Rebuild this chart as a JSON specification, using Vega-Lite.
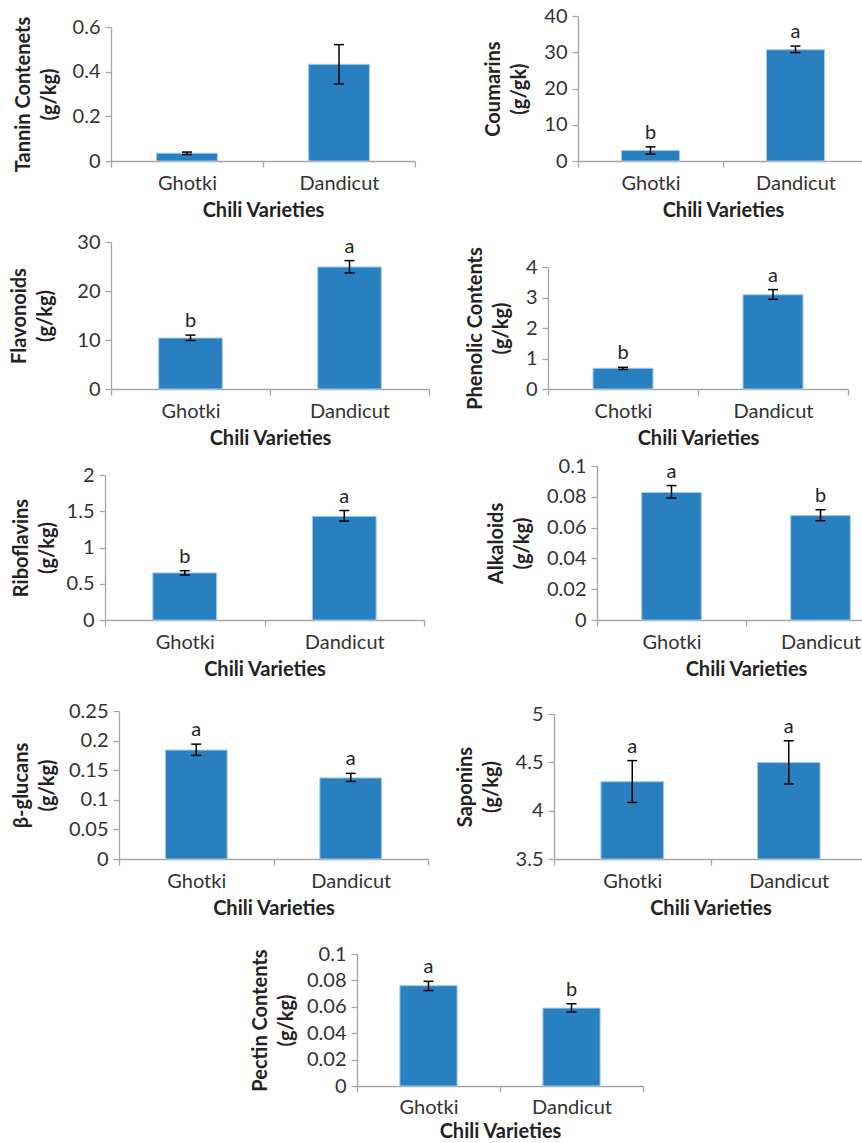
{
  "$schema": "https://vega.github.io/schema/vega-lite/v6.json",
  "padding": {"left": 9, "top": 6, "right": 0, "bottom": 0},
  "background": "white",
  "data": {"values": [
    {"p": 1, "v": "Ghotki", "val": 0.035, "lo": 0.029, "hi": 0.040, "lab": ""},
    {"p": 1, "v": "Dandicut", "val": 0.433, "lo": 0.345, "hi": 0.521, "lab": ""},
    {"p": 2, "v": "Ghotki", "val": 2.9, "lo": 1.9, "hi": 3.9, "lab": "b"},
    {"p": 2, "v": "Dandicut", "val": 30.7, "lo": 29.9, "hi": 31.7, "lab": "a"},
    {"p": 3, "v": "Ghotki", "val": 10.4, "lo": 9.9, "hi": 11.0, "lab": "b"},
    {"p": 3, "v": "Dandicut", "val": 24.9, "lo": 23.7, "hi": 26.2, "lab": "a"},
    {"p": 4, "v": "Chotki", "val": 0.68, "lo": 0.64, "hi": 0.71, "lab": "b"},
    {"p": 4, "v": "Dandicut", "val": 3.09, "lo": 2.94, "hi": 3.26, "lab": "a"},
    {"p": 5, "v": "Ghotki", "val": 0.65, "lo": 0.62, "hi": 0.68, "lab": "b"},
    {"p": 5, "v": "Dandicut", "val": 1.43, "lo": 1.365, "hi": 1.51, "lab": "a"},
    {"p": 6, "v": "Ghotki", "val": 0.0828, "lo": 0.0792, "hi": 0.0873, "lab": "a"},
    {"p": 6, "v": "Dandicut", "val": 0.0679, "lo": 0.0645, "hi": 0.0716, "lab": "b"},
    {"p": 7, "v": "Ghotki", "val": 0.184, "lo": 0.175, "hi": 0.194, "lab": "a"},
    {"p": 7, "v": "Dandicut", "val": 0.137, "lo": 0.131, "hi": 0.1446, "lab": "a"},
    {"p": 8, "v": "Ghotki", "val": 4.30, "lo": 4.085, "hi": 4.518, "lab": "a"},
    {"p": 8, "v": "Dandicut", "val": 4.498, "lo": 4.276, "hi": 4.723, "lab": "a"},
    {"p": 9, "v": "Ghotki", "val": 0.076, "lo": 0.0723, "hi": 0.0793, "lab": "a"},
    {"p": 9, "v": "Dandicut", "val": 0.059, "lo": 0.056, "hi": 0.0623, "lab": "b"}
  ]},
  "vconcat": [
    {"hconcat": [
      {"width": 304, "height": 145, "transform": [{"filter": "datum.p == 1"}],
       "encoding": {"x": {"field": "v", "type": "nominal", "sort": null, "scale": {"paddingInner": 0, "paddingOuter": 0}, "axis": {"title": "Chili Varieties"}}},
       "layer": [
        {"mark": {"type": "bar", "width": {"band": 0.4}, "fill": "#2980c1", "stroke": "#a3cbea", "strokeWidth": 1, "opacity": 1},
         "encoding": {"y": {"field": "val", "type": "quantitative", "scale": {"domain": [0, 0.6], "nice": false, "range": [145, 11]}, "axis": {"values": [0, 0.2, 0.4, 0.6], "tickCount": 20, "titlePadding": 13, "title": ["Tannin Contenets", "(g/kg)"]}}}},
        {"mark": {"type": "rule", "color": "#000000", "strokeWidth": 1.5}, "encoding": {"y": {"field": "lo", "type": "quantitative"}, "y2": {"field": "hi"}}},
        {"mark": {"type": "tick", "color": "#000000", "thickness": 1.5, "size": 10, "opacity": 1}, "encoding": {"y": {"field": "lo", "type": "quantitative"}}},
        {"mark": {"type": "tick", "color": "#000000", "thickness": 1.5, "size": 10, "opacity": 1}, "encoding": {"y": {"field": "hi", "type": "quantitative"}}},
        {"mark": {"type": "text", "baseline": "alphabetic", "dy": -8, "fontSize": 20, "color": "#262626"}, "encoding": {"y": {"field": "hi", "type": "quantitative"}, "text": {"field": "lab"}}}
       ]},
      {"width": 299, "height": 145, "transform": [{"filter": "datum.p == 2"}],
       "encoding": {"x": {"field": "v", "type": "nominal", "sort": null, "scale": {"paddingInner": 0, "paddingOuter": 0, "range": [0, 290]}, "axis": {"title": "Chili Varieties"}}},
       "layer": [
        {"mark": {"type": "bar", "width": {"band": 0.4}, "fill": "#2980c1", "stroke": "#a3cbea", "strokeWidth": 1, "opacity": 1},
         "encoding": {"y": {"field": "val", "type": "quantitative", "scale": {"domain": [0, 40], "nice": false, "range": [145, 0]}, "axis": {"values": [0, 10, 20, 30, 40], "tickCount": 20, "title": ["Coumarins", "(g/gk)"]}}}},
        {"mark": {"type": "rule", "color": "#000000", "strokeWidth": 1.5}, "encoding": {"y": {"field": "lo", "type": "quantitative"}, "y2": {"field": "hi"}}},
        {"mark": {"type": "tick", "color": "#000000", "thickness": 1.5, "size": 10, "opacity": 1}, "encoding": {"y": {"field": "lo", "type": "quantitative"}}},
        {"mark": {"type": "tick", "color": "#000000", "thickness": 1.5, "size": 10, "opacity": 1}, "encoding": {"y": {"field": "hi", "type": "quantitative"}}},
        {"mark": {"type": "text", "baseline": "alphabetic", "dy": -8, "fontSize": 20, "color": "#262626"}, "encoding": {"y": {"field": "hi", "type": "quantitative"}, "text": {"field": "lab"}}}
       ]}
    ], "spacing": 67},
    {"hconcat": [
      {"width": 318, "height": 169, "transform": [{"filter": "datum.p == 3"}],
       "encoding": {"x": {"field": "v", "type": "nominal", "sort": null, "scale": {"paddingInner": 0, "paddingOuter": 0}, "axis": {"title": "Chili Varieties"}}},
       "layer": [
        {"mark": {"type": "bar", "width": {"band": 0.4}, "fill": "#2980c1", "stroke": "#a3cbea", "strokeWidth": 1, "opacity": 1},
         "encoding": {"y": {"field": "val", "type": "quantitative", "scale": {"domain": [0, 30], "nice": false, "range": [169, 22]}, "axis": {"values": [0, 10, 20, 30], "tickCount": 20, "titlePadding": 21, "title": ["Flavonoids", "(g/kg)"]}}}},
        {"mark": {"type": "rule", "color": "#000000", "strokeWidth": 1.5}, "encoding": {"y": {"field": "lo", "type": "quantitative"}, "y2": {"field": "hi"}}},
        {"mark": {"type": "tick", "color": "#000000", "thickness": 1.5, "size": 10, "opacity": 1}, "encoding": {"y": {"field": "lo", "type": "quantitative"}}},
        {"mark": {"type": "tick", "color": "#000000", "thickness": 1.5, "size": 10, "opacity": 1}, "encoding": {"y": {"field": "hi", "type": "quantitative"}}},
        {"mark": {"type": "text", "baseline": "alphabetic", "dy": -8, "fontSize": 20, "color": "#262626"}, "encoding": {"y": {"field": "hi", "type": "quantitative"}, "text": {"field": "lab"}}}
       ]},
      {"width": 313, "height": 169, "transform": [{"filter": "datum.p == 4"}],
       "encoding": {"x": {"field": "v", "type": "nominal", "sort": null, "scale": {"paddingInner": 0, "paddingOuter": 0, "range": [0, 300]}, "axis": {"title": "Chili Varieties"}}},
       "layer": [
        {"mark": {"type": "bar", "width": {"band": 0.4}, "fill": "#2980c1", "stroke": "#a3cbea", "strokeWidth": 1, "opacity": 1},
         "encoding": {"y": {"field": "val", "type": "quantitative", "scale": {"domain": [0, 4], "nice": false, "range": [169, 47]}, "axis": {"values": [0, 1, 2, 3, 4], "tickCount": 20, "title": ["Phenolic Contents", "(g/kg)"]}}}},
        {"mark": {"type": "rule", "color": "#000000", "strokeWidth": 1.5}, "encoding": {"y": {"field": "lo", "type": "quantitative"}, "y2": {"field": "hi"}}},
        {"mark": {"type": "tick", "color": "#000000", "thickness": 1.5, "size": 10, "opacity": 1}, "encoding": {"y": {"field": "lo", "type": "quantitative"}}},
        {"mark": {"type": "tick", "color": "#000000", "thickness": 1.5, "size": 10, "opacity": 1}, "encoding": {"y": {"field": "hi", "type": "quantitative"}}},
        {"mark": {"type": "text", "baseline": "alphabetic", "dy": -8, "fontSize": 20, "color": "#262626"}, "encoding": {"y": {"field": "hi", "type": "quantitative"}, "text": {"field": "lab"}}}
       ]}
    ], "spacing": 35},
    {"hconcat": [
      {"width": 313, "height": 172, "transform": [{"filter": "datum.p == 5"}],
       "encoding": {"x": {"field": "v", "type": "nominal", "sort": null, "scale": {"paddingInner": 0, "paddingOuter": 0, "range": [-6, 313]}, "axis": {"title": "Chili Varieties"}}},
       "layer": [
        {"mark": {"type": "bar", "width": {"band": 0.4}, "fill": "#2980c1", "stroke": "#a3cbea", "strokeWidth": 1, "opacity": 1},
         "encoding": {"y": {"field": "val", "type": "quantitative", "scale": {"domain": [0, 2], "nice": false, "range": [172, 27]}, "axis": {"values": [0, 0.5, 1, 1.5, 2], "tickCount": 20, "offset": 6, "titlePadding": 9, "title": ["Riboflavins", "(g/kg)"]}}}},
        {"mark": {"type": "rule", "color": "#000000", "strokeWidth": 1.5}, "encoding": {"y": {"field": "lo", "type": "quantitative"}, "y2": {"field": "hi"}}},
        {"mark": {"type": "tick", "color": "#000000", "thickness": 1.5, "size": 10, "opacity": 1}, "encoding": {"y": {"field": "lo", "type": "quantitative"}}},
        {"mark": {"type": "tick", "color": "#000000", "thickness": 1.5, "size": 10, "opacity": 1}, "encoding": {"y": {"field": "hi", "type": "quantitative"}}},
        {"mark": {"type": "text", "baseline": "alphabetic", "dy": -8, "fontSize": 20, "color": "#262626"}, "encoding": {"y": {"field": "hi", "type": "quantitative"}, "text": {"field": "lab"}}}
       ]},
      {"width": 298, "height": 172, "transform": [{"filter": "datum.p == 6"}],
       "encoding": {"x": {"field": "v", "type": "nominal", "sort": null, "scale": {"paddingInner": 0, "paddingOuter": 0}, "axis": {"title": "Chili Varieties"}}},
       "layer": [
        {"mark": {"type": "bar", "width": {"band": 0.4}, "fill": "#2980c1", "stroke": "#a3cbea", "strokeWidth": 1, "opacity": 1},
         "encoding": {"y": {"field": "val", "type": "quantitative", "scale": {"domain": [0, 0.1], "nice": false, "range": [172, 18]}, "axis": {"values": [0, 0.02, 0.04, 0.06, 0.08, 0.1], "tickCount": 20, "title": ["Alkaloids", "(g/kg)"]}}}},
        {"mark": {"type": "rule", "color": "#000000", "strokeWidth": 1.5}, "encoding": {"y": {"field": "lo", "type": "quantitative"}, "y2": {"field": "hi"}}},
        {"mark": {"type": "tick", "color": "#000000", "thickness": 1.5, "size": 10, "opacity": 1}, "encoding": {"y": {"field": "lo", "type": "quantitative"}}},
        {"mark": {"type": "tick", "color": "#000000", "thickness": 1.5, "size": 10, "opacity": 1}, "encoding": {"y": {"field": "hi", "type": "quantitative"}}},
        {"mark": {"type": "text", "baseline": "alphabetic", "dy": -8, "fontSize": 20, "color": "#262626"}, "encoding": {"y": {"field": "hi", "type": "quantitative"}, "text": {"field": "lab"}}}
       ]}
    ], "spacing": 56},
    {"hconcat": [
      {"width": 317, "height": 180, "transform": [{"filter": "datum.p == 7"}],
       "encoding": {"x": {"field": "v", "type": "nominal", "sort": null, "scale": {"paddingInner": 0, "paddingOuter": 0, "range": [8, 317]}, "axis": {"title": "Chili Varieties"}}},
       "layer": [
        {"mark": {"type": "bar", "width": {"band": 0.4}, "fill": "#2980c1", "stroke": "#a3cbea", "strokeWidth": 1, "opacity": 1},
         "encoding": {"y": {"field": "val", "type": "quantitative", "scale": {"domain": [0, 0.25], "nice": false, "range": [180, 32]}, "axis": {"values": [0, 0.05, 0.1, 0.15, 0.2, 0.25], "tickCount": 20, "offset": -8, "titlePadding": 11, "title": ["β-glucans", "(g/kg)"]}}}},
        {"mark": {"type": "rule", "color": "#000000", "strokeWidth": 1.5}, "encoding": {"y": {"field": "lo", "type": "quantitative"}, "y2": {"field": "hi"}}},
        {"mark": {"type": "tick", "color": "#000000", "thickness": 1.5, "size": 10, "opacity": 1}, "encoding": {"y": {"field": "lo", "type": "quantitative"}}},
        {"mark": {"type": "tick", "color": "#000000", "thickness": 1.5, "size": 10, "opacity": 1}, "encoding": {"y": {"field": "hi", "type": "quantitative"}}},
        {"mark": {"type": "text", "baseline": "alphabetic", "dy": -8, "fontSize": 20, "color": "#262626"}, "encoding": {"y": {"field": "hi", "type": "quantitative"}, "text": {"field": "lab"}}}
       ]},
      {"width": 313, "height": 180, "transform": [{"filter": "datum.p == 8"}],
       "encoding": {"x": {"field": "v", "type": "nominal", "sort": null, "scale": {"paddingInner": 0, "paddingOuter": 0}, "axis": {"title": "Chili Varieties"}}},
       "layer": [
        {"mark": {"type": "bar", "width": {"band": 0.4}, "fill": "#2980c1", "stroke": "#a3cbea", "strokeWidth": 1, "opacity": 1},
         "encoding": {"y": {"field": "val", "type": "quantitative", "scale": {"domain": [3.5, 5], "nice": false, "zero": false, "range": [180, 35]}, "axis": {"values": [3.5, 4, 4.5, 5], "tickCount": 20, "title": ["Saponins", "(g/kg)"]}}, "y2": {"datum": 3.5}}},
        {"mark": {"type": "rule", "color": "#000000", "strokeWidth": 1.5}, "encoding": {"y": {"field": "lo", "type": "quantitative"}, "y2": {"field": "hi"}}},
        {"mark": {"type": "tick", "color": "#000000", "thickness": 1.5, "size": 10, "opacity": 1}, "encoding": {"y": {"field": "lo", "type": "quantitative"}}},
        {"mark": {"type": "tick", "color": "#000000", "thickness": 1.5, "size": 10, "opacity": 1}, "encoding": {"y": {"field": "hi", "type": "quantitative"}}},
        {"mark": {"type": "text", "baseline": "alphabetic", "dy": -8, "fontSize": 20, "color": "#262626"}, "encoding": {"y": {"field": "hi", "type": "quantitative"}, "text": {"field": "lab"}}}
       ]}
    ], "spacing": 26},
    {"hconcat": [
      {"data": {"values": [{"s": ""}]}, "width": 139, "height": 10, "mark": {"type": "text"}, "encoding": {"text": {"field": "s"}}},
      {"width": 286, "height": 167, "transform": [{"filter": "datum.p == 9"}],
       "encoding": {"x": {"field": "v", "type": "nominal", "sort": null, "scale": {"paddingInner": 0, "paddingOuter": 0}, "axis": {"title": "Chili Varieties", "labelPadding": 5, "titlePadding": 4}}},
       "layer": [
        {"mark": {"type": "bar", "width": {"band": 0.4}, "fill": "#2980c1", "stroke": "#a3cbea", "strokeWidth": 1, "opacity": 1},
         "encoding": {"y": {"field": "val", "type": "quantitative", "scale": {"domain": [0, 0.1], "nice": false, "range": [167, 35]}, "axis": {"values": [0, 0.02, 0.04, 0.06, 0.08, 0.1], "tickCount": 20, "titlePadding": 10, "title": ["Pectin Contents", "(g/kg)"]}}}},
        {"mark": {"type": "rule", "color": "#000000", "strokeWidth": 1.5}, "encoding": {"y": {"field": "lo", "type": "quantitative"}, "y2": {"field": "hi"}}},
        {"mark": {"type": "tick", "color": "#000000", "thickness": 1.5, "size": 10, "opacity": 1}, "encoding": {"y": {"field": "lo", "type": "quantitative"}}},
        {"mark": {"type": "tick", "color": "#000000", "thickness": 1.5, "size": 10, "opacity": 1}, "encoding": {"y": {"field": "hi", "type": "quantitative"}}},
        {"mark": {"type": "text", "baseline": "alphabetic", "dy": -8, "fontSize": 20, "color": "#262626"}, "encoding": {"y": {"field": "hi", "type": "quantitative"}, "text": {"field": "lab"}}}
       ]}
    ], "spacing": 0}
  ],
  "spacing": 0,
  "config": {
    "font": "Lato",
    "view": {"stroke": null},
    "axis": {"domainColor": "#a6a6a6", "domainWidth": 1.3, "tickColor": "#a6a6a6", "tickWidth": 1.3, "tickSize": 6, "labelFont": "Lato", "labelFontSize": 20, "labelColor": "#333333", "titleFont": "Lato", "titleFontSize": 20, "titleFontWeight": "bold", "titleColor": "#222222", "grid": false, "labelOverlap": false},
    "axisX": {"tickBand": "extent", "labelAngle": 0, "labelPadding": 6, "titlePadding": 7},
    "axisY": {"labelPadding": 5, "titlePadding": 14, "titleLineHeight": 26, "format": "~r"}
  }
}
